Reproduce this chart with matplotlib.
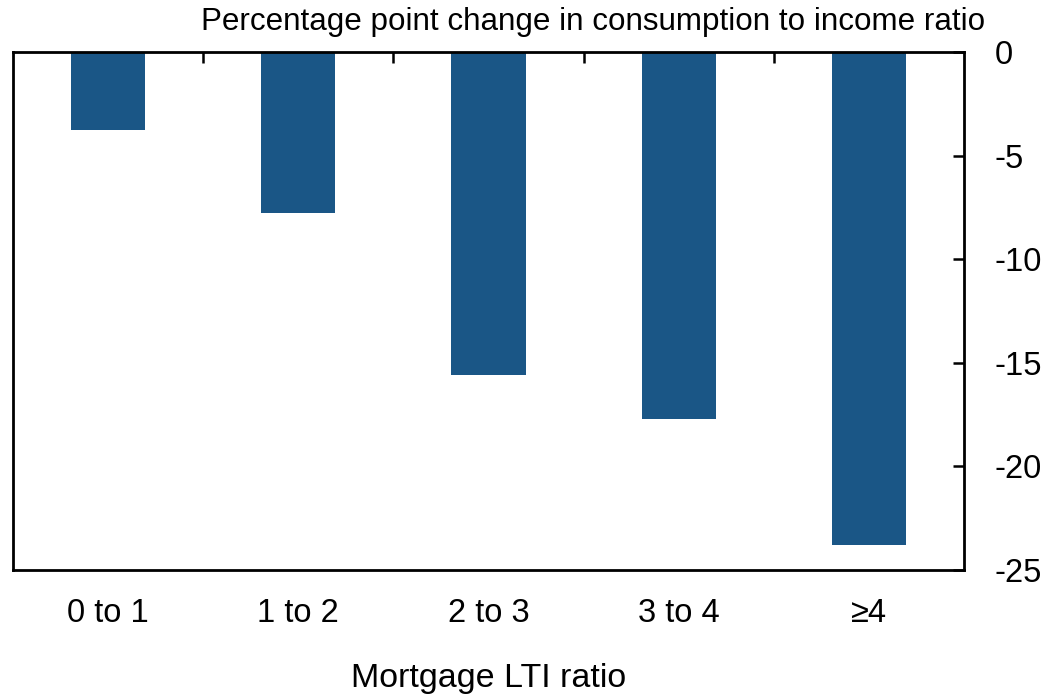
import matplotlib.pyplot as plt

plt.rcParams['font.family'] = ['Liberation Sans', 'DejaVu Sans']

categories = ['0 to 1', '1 to 2', '2 to 3', '3 to 4', '≥4']
values = [-3.75, -7.75, -15.6, -17.7, -23.8]

fig = plt.figure(figsize=(10.48, 6.97), dpi=100)
ax = fig.add_axes([13 / 1048, 1 - 570 / 697, 951 / 1048, 518 / 697])

x = list(range(len(categories)))
ax.bar(x, values, width=0.39, color='#1a5686')

ax.set_xlim(-0.5, len(categories) - 0.5)
ax.set_ylim(-25, 0)
ax.yaxis.tick_right()
ax.set_yticks([0, -5, -10, -15, -20, -25])
ax.set_yticklabels(['0', '-5', '-10', '-15', '-20', '-25'])
ax.tick_params(axis='y', direction='in', length=8, width=1.8, pad=22, labelsize=23.5)

# category labels without ticks; boundary ticks on top spine
ax.set_xticks(x)
ax.set_xticklabels(categories)
ax.tick_params(axis='x', length=0, pad=20, labelsize=23.5)
ax.set_xticks([i + 0.5 for i in x[:-1]], minor=True)
ax.tick_params(axis='x', which='minor', top=True, bottom=False, direction='in', length=8, width=1.8)

for s in ax.spines.values():
    s.set_linewidth(2)

ax.set_xlabel('Mortgage LTI ratio', fontsize=24.5, labelpad=25)
fig.text(985 / 1048, 1 - 22 / 697, 'Percentage point change in consumption to income ratio',
         ha='right', va='center', fontsize=22.6)

fig.savefig('out.png', dpi=100)
